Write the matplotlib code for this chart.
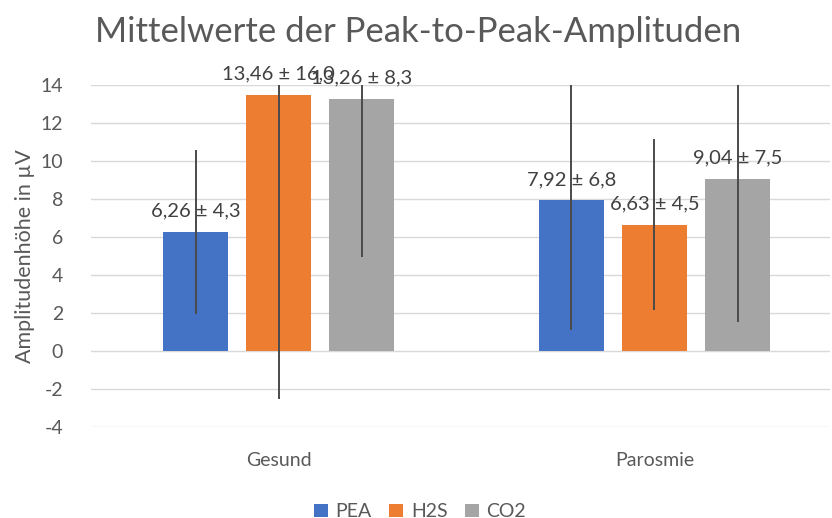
import matplotlib.pyplot as plt
import numpy as np

plt.rcParams['font.family'] = ['Lato', 'DejaVu Sans']
plt.rcParams['axes.unicode_minus'] = False

# data
groups = ['Gesund', 'Parosmie']
series = ['PEA', 'H2S', 'CO2']
means = {
    'PEA': [6.26, 7.92],
    'H2S': [13.46, 6.63],
    'CO2': [13.26, 9.04],
}
sds = {
    'PEA': [4.3, 6.8],
    'H2S': [16.0, 4.5],
    'CO2': [8.3, 7.5],
}
colors = {'PEA': '#4472C4', 'H2S': '#ED7D31', 'CO2': '#A5A5A5'}
text_col = '#595959'

fig = plt.figure(figsize=(8.32, 5.18), dpi=100)
ax = fig.add_axes([0.109, 0.176, 0.889, 0.66])

x = np.arange(len(groups))
width = 0.173
step = 0.221

for i, s in enumerate(series):
    pos = x + (i - 1) * step
    ax.bar(pos, means[s], width, color=colors[s], label=s, zorder=2)
    ax.errorbar(pos, means[s], yerr=sds[s], fmt='none', ecolor='#4a4a4a',
                elinewidth=1.4, capsize=0, zorder=3)
    for p, m, e in zip(pos, means[s], sds[s]):
        txt = f'{m:.2f}'.replace('.', ',') + ' ± ' + f'{e:.1f}'.replace('.', ',')
        ax.annotate(txt, (p, m), xytext=(0, 9), textcoords='offset points',
                    ha='center', va='bottom', fontsize=14.5, color='#404040',
                    annotation_clip=False, zorder=4)

ax.set_ylim(-4, 14)
ax.set_xlim(-0.5, 1.468)
ax.set_yticks(np.arange(-4, 15, 2))
ax.set_xticks(x)
ax.set_xticklabels(groups)
ax.yaxis.grid(True, color='#d9d9d9', linewidth=1, zorder=0)
ax.set_axisbelow(True)
for sp in ax.spines.values():
    sp.set_visible(False)
ax.tick_params(axis='both', length=0, colors=text_col, labelsize=14)
ax.tick_params(axis='x', pad=18)
ax.tick_params(axis='y', pad=20)

ax.set_ylabel('Amplitudenhöhe in µV', fontsize=15.5, color=text_col, labelpad=4)
fig.text(0.503, 0.938, 'Mittelwerte der Peak-to-Peak-Amplituden',
         ha='center', va='center', fontsize=25, color=text_col)

fig.legend(loc='center', bbox_to_anchor=(0.505, 0.012), ncol=3, frameon=False,
           fontsize=14, handlelength=0.7, handleheight=0.7,
           columnspacing=0.9, handletextpad=0.4, labelcolor=text_col)

fig.savefig('out.png', dpi=100)
